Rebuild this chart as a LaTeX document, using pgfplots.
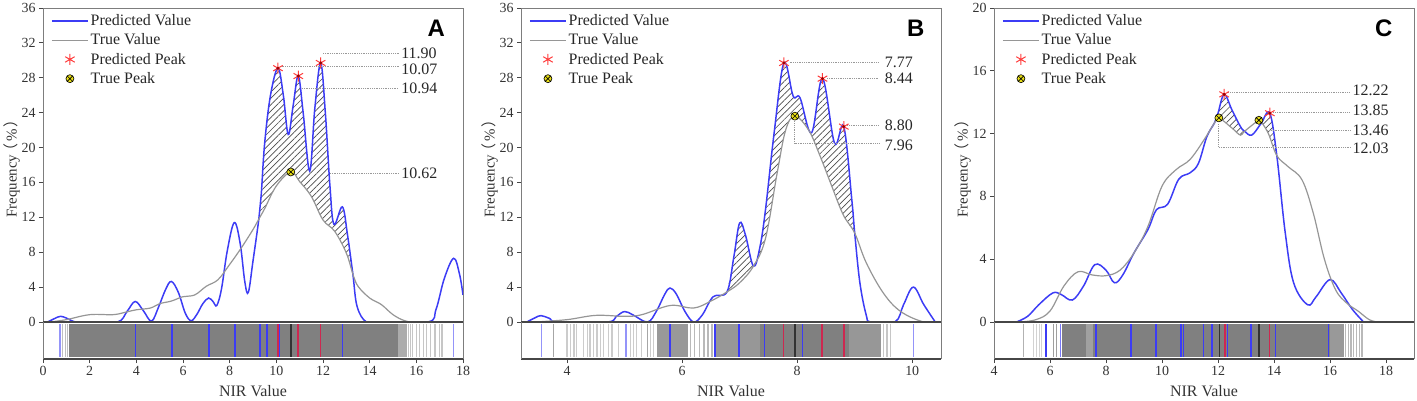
\documentclass[border=0pt]{standalone}
\usepackage{fontspec}
\setmainfont{Liberation Serif}
\setsansfont{Liberation Sans}
\newfontfamily\cjk{Noto Sans CJK SC}
\usepackage{pgfplots}
\pgfplotsset{compat=1.18}
\usetikzlibrary{patterns.meta}
\definecolor{predblue}{RGB}{60,60,245}
\definecolor{truegray}{RGB}{150,150,150}
\definecolor{bargray}{RGB}{128,128,128}
\definecolor{axgray}{RGB}{125,125,125}
\definecolor{axdark}{RGB}{70,70,70}
\definecolor{peakred}{RGB}{255,60,60}
\definecolor{stripred}{RGB}{205,40,80}
\newcommand\lf{\fontsize{16}{16}\selectfont}
\tikzset{
  lbl/.style={anchor=west, font=\fontsize{16}{16}\selectfont, text=black!85, inner sep=0pt},
  letter/.style={font=\fontsize{24}{24}\selectfont\sffamily\bfseries, text=black},
}
\pgfplotsset{
  mainax/.style={scale only axis, width=420bp, height=314bp, anchor=south west,
    ymin=0, xtick=\empty, clip=true,
    axis line style={draw=axgray, line width=0.9bp},
    ytick pos=left, tick align=outside, major tick length=4bp,
    tick style={draw=axdark, line width=0.8bp},
    /pgf/number format/assume math mode=true,
    yticklabel style={font=\fontsize{14}{14}\selectfont, text=black!80},
    ylabel={\fontsize{15}{15}\selectfont Frequency\kern-4bp{\cjk （}\kern2bp\%\kern2bp{\cjk ）}},
    ylabel style={text=black!80, at={(axis description cs:-0.074,0.5)}, anchor=center},
    legend image code/.code={\draw[mark repeat=2,mark phase=2,##1] plot coordinates {(0bp,0bp) (18bp,0bp) (36bp,0bp)};},
    legend cell align=left,
    legend style={draw=none, fill=none, at={(0,1)}, anchor=north west, xshift=5bp, yshift=-2.5bp,
      row sep=2.7bp, text=black!85},
  },
  stripax/.style={scale only axis, width=420bp, height=37bp, anchor=south west,
    ymin=-0.07, ymax=1.0, ytick=\empty, clip=true,
    separate axis lines,
    x axis line style={draw=axdark, line width=1.4bp},
    y axis line style={draw=axgray, line width=0.9bp},
    xtick pos=bottom, tick align=outside, major tick length=4bp,
    tick style={draw=axdark, line width=0.8bp},
    /pgf/number format/assume math mode=true,
    xticklabel style={font=\fontsize{14}{14}\selectfont, text=black!80},
    xlabel={\fontsize{16}{16}\selectfont NIR Value},
    xlabel style={text=black!80, at={(axis description cs:0.5,0)}, anchor=center, yshift=-32bp},
  },
  predline/.style={predblue, line width=1.5bp, smooth, tension=0.6, no markers},
  trueline/.style={truegray, line width=1.2bp, smooth, tension=0.6, no markers},
  hatch/.style={smooth, tension=0.6, no markers, draw=none, pattern={Lines[angle=45,distance=4.5bp,line width=0.7bp]}, pattern color=black!70},
  annot/.style={densely dotted, gray!80, line width=0.8bp, no markers},
  predpk/.style={only marks, mark=asterisk, mark size=5.5bp, peakred, line width=1bp},
  predpkc/.style={only marks, mark=*, mark size=1.3bp, red!60!black},
  truepk/.style={only marks, mark=otimes*, mark size=4bp, mark options={fill=yellow!90!black, draw=black, line width=0.6bp}},
  sline/.style={ycomb, line width=1.2bp, no markers},
  bline/.style={ycomb, line width=1.6bp, no markers},
}
\newcommand\mylegend{%
\addlegendimage{predblue, line width=1.5bp}\addlegendentry{\lf Predicted Value}
\addlegendimage{truegray, line width=1.2bp}\addlegendentry{\lf True Value}
\addlegendimage{predpk}\addlegendentry{\lf Predicted Peak}
\addlegendimage{truepk}\addlegendentry{\lf True Peak}}
\begin{document}
\begin{tikzpicture}
\useasboundingbox (0,0) rectangle (1417bp,401bp);
% ================= PANEL A =================
\begin{axis}[mainax, at={(43bp,79bp)}, xmin=0, xmax=18, ymax=36, ytick={0,4,...,36}]
\mylegend
\addplot[hatch, forget plot] coordinates {
(9.25,11.8) (9.35,14.5) (9.5,20.5) (9.75,26.0) (10.07,29.1) (10.3,26.0) (10.51,21.5) (10.72,24.8) (10.94,28.2)
(11.15,24.0) (11.43,17.3) (11.65,24.5) (11.9,29.7) (12.1,24.0) (12.3,15.5) (12.47,11.2) (12.83,13.2) (13.05,10.0) (13.28,5.5)
(13.28,5.5) (13,7.9) (12.5,10.4) (12,11.7) (11.5,14.4) (11,16.1) (10.62,17.2) (10,15.6) (9.5,13.0) (9.25,11.8)};
\addplot[predline, forget plot] coordinates {
(0.2,0) (0.5,0.4) (0.75,0.65) (1.0,0.45) (1.4,0) (2,0) (3.2,0) (3.6,1.2) (3.95,2.35) (4.3,1.3) (4.65,0.1)
(4.95,1.7) (5.25,3.7) (5.5,4.65) (5.8,3.4) (6.1,1.0) (6.35,0.15) (6.6,0.9) (6.85,2.1) (7.1,2.75) (7.3,2.3)
(7.45,1.9) (7.65,3.8) (7.9,8.2) (8.2,11.4) (8.45,9.0) (8.65,4.6) (8.8,3.4) (9.0,7.0) (9.25,11.8) (9.35,14.5)
(9.5,20.5) (9.75,26.0) (10.07,29.1) (10.3,26.0) (10.51,21.5) (10.72,24.8) (10.94,28.2) (11.15,24.0) (11.43,17.3)
(11.65,24.5) (11.9,29.7) (12.1,24.0) (12.3,15.5) (12.47,11.2) (12.83,13.2) (13.05,10.0) (13.28,5.5) (13.46,1.8)
(13.86,0) (14.5,0) (16.5,0) (16.85,1.5) (17.2,5.0) (17.6,7.3) (17.85,5.5) (18,3.1)};
\addplot[trueline, forget plot] coordinates {
(0.3,0) (1,0.27) (2,0.84) (3,0.84) (3.5,1.1) (4,1.4) (4.6,1.6) (5,2.1) (5.5,2.4) (6,2.9) (6.5,3.1) (7,4.1)
(7.5,4.85) (8,6.6) (8.5,8.5) (9,10.6) (9.25,11.8) (9.5,13.0) (10,15.6) (10.62,17.2) (11,16.1) (11.5,14.4) (12,11.7)
(12.5,10.4) (13,7.9) (13.28,5.5) (13.5,4.1) (14,2.75) (14.5,2.0) (15,0.84) (15.5,0.15) (16,0) (18,0)};
\addplot[annot, forget plot] coordinates {(12.0,30.75) (15.25,30.75)};
\addplot[annot, forget plot] coordinates {(10.15,29.3) (15.25,29.3)};
\addplot[annot, forget plot] coordinates {(11.1,26.8) (15.25,26.8)};
\addplot[annot, forget plot] coordinates {(12.3,17.0) (15.25,17.0)};
\addplot[predpk, forget plot] coordinates {(10.07,29.1) (10.94,28.2) (11.9,29.7)};
\addplot[predpkc, forget plot] coordinates {(10.07,29.1) (10.94,28.2) (11.9,29.7)};
\addplot[truepk, forget plot] coordinates {(10.62,17.2)};
\node[lbl] at (axis cs:15.35,30.85) {11.90};
\node[lbl] at (axis cs:15.35,28.95) {10.07};
\node[lbl] at (axis cs:15.35,26.75) {10.94};
\node[lbl] at (axis cs:15.35,17.0) {10.62};
\node[letter] at (axis cs:16.85,33.7) {A};
\end{axis}
\begin{axis}[stripax, at={(43bp,42bp)}, xmin=0, xmax=18, xtick={0,2,...,18}]
\addplot[sline, gray!50] coordinates {(0.85,0.93) (0.95,0.93) (1.05,0.93)};
\addplot[fill=bargray, draw=none] coordinates {(1.1,0) (15.2,0) (15.2,0.93) (1.1,0.93)} -- cycle;
\addplot[fill=bargray!65, draw=none] coordinates {(15.2,0) (15.6,0) (15.6,0.93) (15.2,0.93)} -- cycle;
\addplot[sline, gray!45] coordinates {(15.65,0.93) (15.75,0.93) (15.85,0.93) (16.0,0.93) (16.15,0.93) (16.3,0.93) (16.45,0.93) (16.6,0.93) (16.8,0.93) (17.0,0.93) (17.1,0.93)};
\addplot[bline, predblue!55] coordinates {(0.74,0.93) (17.6,0.93)};
\addplot[bline, predblue] coordinates {(3.96,0.93) (5.54,0.93) (7.11,0.93) (8.23,0.93) (9.31,0.93) (9.61,0.93) (10.14,0.93) (12.83,0.93)};
\addplot[bline, stripred] coordinates {(10.07,0.93) (10.94,0.93) (11.9,0.93)};
\addplot[bline, black!80] coordinates {(10.62,0.93)};
\end{axis}
% ================= PANEL B =================
\begin{axis}[mainax, at={(521bp,79bp)}, xmin=3.2, xmax=10.5, ymax=36, ytick={0,4,...,36}]
\mylegend
\addplot[hatch, forget plot] coordinates {(6.78,3.45) (6.9,7.5) (7.0,11.35) (7.1,10.0) (7.24,6.4) (7.24,6.4) (7.0,4.5) (6.78,3.45)};
\addplot[hatch, forget plot] coordinates {(7.24,6.4) (7.35,8.5) (7.45,12.9) (7.6,21.7) (7.77,29.7) (7.93,25.9) (8.05,25.7) (8.25,21.7)
(8.44,27.9) (8.65,20.5) (8.81,22.4) (8.95,14.0) (9.0,10.2) (9.0,10.2) (8.8,12.3) (8.6,15.6) (8.4,19.0) (8.2,22.0) (7.96,23.6) (7.8,22.0) (7.65,17.0) (7.45,9.6) (7.24,6.4)};
\addplot[predline, forget plot] coordinates {
(3.3,0) (3.45,0.5) (3.55,0.73) (3.7,0.4) (3.85,0) (4.7,0) (4.85,0.6) (5.0,1.2) (5.15,0.8) (5.4,0) (5.55,1.2)
(5.7,3.2) (5.79,3.9) (5.9,3.2) (6.05,1.2) (6.2,0) (6.35,0.8) (6.54,2.9) (6.78,3.45) (6.9,7.5) (7.0,11.35)
(7.1,10.0) (7.24,6.4) (7.35,8.5) (7.45,12.9) (7.6,21.7) (7.77,29.7) (7.93,25.9) (8.05,25.7) (8.25,21.7)
(8.44,27.9) (8.65,20.5) (8.81,22.4) (8.95,14.0) (9.0,10.2) (9.09,4.5) (9.2,0.8) (9.28,0) (9.7,0) (9.85,2.0)
(10.02,4.0) (10.2,2.0) (10.4,0)};
\addplot[trueline, forget plot] coordinates {
(3.45,0) (4,0.27) (4.5,0.76) (5.0,0.65) (5.3,0.84) (5.8,1.9) (6.2,1.6) (6.5,2.4) (6.78,3.45) (7.0,4.5) (7.24,6.4)
(7.45,9.6) (7.65,17.0) (7.8,22.0) (7.96,23.6) (8.2,22.0) (8.4,19.0) (8.6,15.6) (8.8,12.3) (9.0,10.2)
(9.2,6.8) (9.5,3.3) (9.8,1.2) (10.2,0) (10.5,0)};
\addplot[annot, forget plot] coordinates {(7.87,29.8) (9.42,29.8)};
\addplot[annot, forget plot] coordinates {(8.52,27.9) (9.42,27.9)};
\addplot[annot, forget plot] coordinates {(8.87,22.5) (9.42,22.5)};
\addplot[annot, forget plot] coordinates {(7.96,23.0) (7.96,20.45) (9.42,20.45)};
\addplot[predpk, forget plot] coordinates {(7.77,29.7) (8.44,27.9) (8.81,22.4)};
\addplot[predpkc, forget plot] coordinates {(7.77,29.7) (8.44,27.9) (8.81,22.4)};
\addplot[truepk, forget plot] coordinates {(7.96,23.6)};
\node[lbl] at (axis cs:9.52,29.8) {7.77};
\node[lbl] at (axis cs:9.52,27.9) {8.44};
\node[lbl] at (axis cs:9.52,22.5) {8.80};
\node[lbl] at (axis cs:9.52,20.2) {7.96};
\node[letter] at (axis cs:10.06,33.7) {B};
\end{axis}
\begin{axis}[stripax, at={(521bp,42bp)}, xmin=3.2, xmax=10.5, xtick={4,6,8,10}]
\addplot[sline, gray!40] coordinates {(4.0,0.93) (4.06,0.93) (4.12,0.93) (4.17,0.93) (4.29,0.93) (4.35,0.93) (4.4,0.93) (4.46,0.93) (4.52,0.93) (4.58,0.93) (4.64,0.93) (4.72,0.93) (4.78,0.93) (4.9,0.93) (5.1,0.93) (5.16,0.93) (5.21,0.93) (5.3,0.93) (5.45,0.93) (5.5,0.93)};
\addplot[sline, gray!70] coordinates {(3.77,0.93) (5.4,0.93)};
\addplot[fill=bargray!80, draw=none] coordinates {(5.57,0) (6.11,0) (6.11,0.93) (5.57,0.93)} -- cycle;
\addplot[sline, gray!55] coordinates {(6.15,0.93) (6.22,0.93) (6.3,0.93) (6.38,0.93) (6.45,0.93) (6.52,0.93)};
\addplot[fill=bargray!82, draw=none] coordinates {(6.57,0) (9.46,0) (9.46,0.93) (6.57,0.93)} -- cycle;
\addplot[fill=bargray, draw=none] coordinates {(7.35,0) (8.9,0) (8.9,0.93) (7.35,0.93)} -- cycle;
\addplot[sline, gray!45] coordinates {(9.5,0.93) (9.56,0.93) (9.62,0.93)};
\addplot[bline, predblue!55] coordinates {(3.555,0.93) (5.02,0.93) (10.02,0.93)};
\addplot[bline, predblue] coordinates {(5.79,0.93) (6.57,0.93) (6.99,0.93) (7.43,0.93) (8.09,0.93)};
\addplot[bline, stripred] coordinates {(7.76,0.93) (8.43,0.93) (8.81,0.93)};
\addplot[bline, black!80] coordinates {(7.96,0.93)};
\end{axis}
% ================= PANEL C =================
\begin{axis}[mainax, at={(994bp,79bp)}, xmin=4, xmax=19, ymax=20, ytick={0,4,...,20}]
\mylegend
\addplot[hatch, forget plot] coordinates {(11.88,12.7) (12.0,13.3) (12.22,14.5) (12.5,13.5) (12.8,12.45) (12.95,12.15) (12.95,12.15) (12.8,11.9) (12.5,12.35) (12.03,13.0) (11.88,12.7)};
\addplot[hatch, forget plot] coordinates {(13.56,12.7) (13.85,13.3) (14.1,10.6) (14.1,10.6) (13.8,12.0) (13.56,12.7)};
\addplot[predline, forget plot] coordinates {
(4.8,0) (5.2,0.36) (5.6,1.1) (6.1,1.85) (6.4,1.75) (6.8,1.4) (7.2,2.3) (7.6,3.65) (8.0,3.3) (8.3,2.5)
(8.6,3.0) (9,4.4) (9.5,5.9) (9.8,7.15) (10.2,7.5) (10.6,9.1) (11.0,9.5) (11.3,10.1) (11.6,11.8) (11.88,12.7) (12.0,13.3)
(12.22,14.5) (12.5,13.5) (12.8,12.45) (12.95,12.15) (13.2,11.9) (13.5,12.55) (13.56,12.7) (13.85,13.3) (14.1,10.6) (14.4,5.7)
(14.7,2.5) (15.2,1.1) (15.5,1.6) (16,2.7) (16.4,1.85) (16.8,0.8) (17.2,0)};
\addplot[trueline, forget plot] coordinates {
(4.9,0) (5.5,0.15) (6,0.7) (6.5,2.3) (7,3.2) (7.5,3.0) (8.0,2.95) (8.5,3.3) (9,4.4) (9.5,6.1) (10,8.65)
(10.5,9.7) (11,10.35) (11.5,11.6) (11.88,12.7) (12.03,13.0) (12.5,12.35) (12.8,11.9) (12.95,12.15) (13.46,12.85) (13.56,12.7)
(13.8,12.0) (14.1,10.6) (14.5,9.9) (15,9.05) (15.4,6.95) (15.8,4.0) (16.2,2.05) (16.6,1.2) (17.0,0.7)
(17.4,0.15) (17.7,0)};
\addplot[annot, forget plot] coordinates {(12.37,14.63) (16.72,14.63)};
\addplot[annot, forget plot] coordinates {(13.97,13.38) (16.72,13.38)};
\addplot[annot, forget plot] coordinates {(13.7,12.2) (16.72,12.2)};
\addplot[annot, forget plot] coordinates {(12.03,12.6) (12.03,11.12) (16.72,11.12)};
\addplot[predpk, forget plot] coordinates {(12.22,14.5) (13.85,13.3)};
\addplot[predpkc, forget plot] coordinates {(12.22,14.5) (13.85,13.3)};
\addplot[truepk, forget plot] coordinates {(12.03,13.0) (13.46,12.85)};
\node[lbl] at (axis cs:16.8,14.76) {12.22};
\node[lbl] at (axis cs:16.8,13.5) {13.85};
\node[lbl] at (axis cs:16.8,12.2) {13.46};
\node[lbl] at (axis cs:16.8,11.05) {12.03};
\node[letter] at (axis cs:17.92,18.7) {C};
\end{axis}
\begin{axis}[stripax, at={(994bp,42bp)}, xmin=4, xmax=19, xtick={4,6,...,18}]
\addplot[sline, gray!60] coordinates {(5.05,0.93)};
\addplot[sline, gray!35] coordinates {(5.4,0.93) (5.52,0.93) (5.62,0.93) (5.7,0.93)};
\addplot[sline, gray!75] coordinates {(6.12,0.93) (6.24,0.93)};
\addplot[fill=bargray, draw=none] coordinates {(6.42,0) (16.0,0) (16.0,0.93) (6.42,0.93)} -- cycle;
\addplot[fill=bargray!75, draw=none] coordinates {(7.3,0) (7.55,0) (7.55,0.93) (7.3,0.93)} -- cycle;
\addplot[fill=bargray!80, draw=none] coordinates {(16.0,0) (16.5,0) (16.5,0.93) (16.0,0.93)} -- cycle;
\addplot[sline, gray!55] coordinates {(16.55,0.93) (16.65,0.93) (16.75,0.93) (16.85,0.93) (16.95,0.93) (17.05,0.93) (17.14,0.93)};
\addplot[bline, predblue] coordinates {(5.86,0.93) (7.64,0.93) (8.9,0.93) (9.78,0.93) (10.67,0.93) (10.77,0.93) (11.48,0.93) (11.78,0.93) (12.34,0.93) (13.18,0.93) (14.05,0.93) (15.95,0.93)};
\addplot[bline, predblue!70] coordinates {(6.38,0.93)};
\addplot[bline, black!80] coordinates {(12.05,0.93) (13.46,0.93)};
\addplot[bline, stripred] coordinates {(12.26,0.93) (13.84,0.93)};
\end{axis}
\end{tikzpicture}
\end{document}
